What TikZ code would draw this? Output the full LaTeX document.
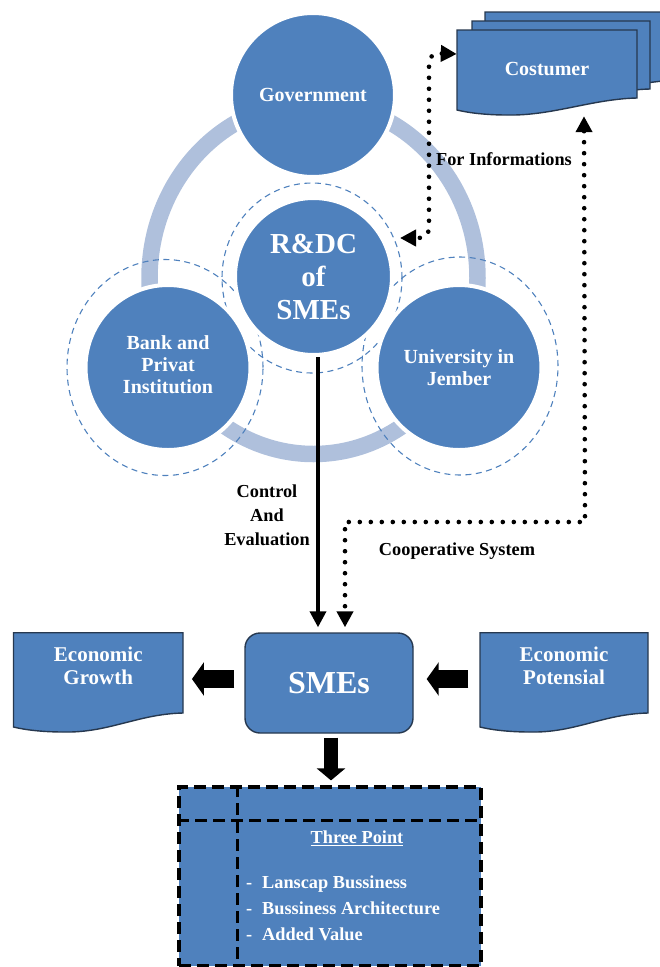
\documentclass[tikz,border=0pt]{standalone}
\usepackage{fontspec}
\setmainfont{Liberation Serif}
\usetikzlibrary{arrows.meta,shapes.geometric}
\definecolor{blu}{HTML}{4F81BD}
\definecolor{ringc}{HTML}{AFC0DC}
\definecolor{edgec}{HTML}{26384F}
\newcommand{\docshape}[5]{%
  \draw[docfill] (#1,#2) -- (#3,#2) -- (#3,#4)
    .. controls ({#3-45},{#4+1}) and ({#1+95},{#5+6}) .. ({#1+50},{#5+5})
    .. controls ({#1+30},{#5+5}) and ({#1+12},{#5+3}) .. (#1,#5) -- cycle;}
\newcommand{\twolines}[2]{\raisebox{5.5pt}[0pt][0pt]{\begin{tabular}{@{}c@{}}#1\\[0pt]#2\end{tabular}}}
\tikzset{
  docfill/.style={fill=blu,draw=edgec,line width=1.4pt},
  disc/.style={circle,fill=blu,draw=white,line width=4pt,inner sep=0pt,text=white,align=center},
  halo/.style={ellipse,draw=blu,line width=1.1pt,dash pattern=on 6pt off 4.5pt,inner sep=0pt},
  wlabel/.style={text=white,align=center,font=\bfseries\fontsize{20}{22}\selectfont},
  blabel/.style={text=black,align=center,font=\bfseries\fontsize{18.3}{24}\selectfont},
  docnode/.style={minimum width=169pt,minimum height=92pt,inner sep=0pt,text=white,align=center,
     font=\bfseries\fontsize{21}{23}\selectfont},
  solidarrow/.style={line width=3.6pt,-{Triangle[length=16pt,width=16pt]}},
  dotarrow/.style={line width=4.6pt,line cap=round,dash pattern=on 0pt off 11pt,
     {Triangle[length=16pt,width=16pt]}-{Triangle[length=16pt,width=16pt]}},
  blockarrow/.style={line width=18pt,-{Triangle[length=12pt,width=33pt]}},
  dashline/.style={draw=black,line width=3.2pt,dash pattern=on 12pt off 6pt},
}
\begin{document}
\begin{tikzpicture}[x=1pt,y=-1pt]
\useasboundingbox (0,0) rectangle (659,967);
% ring
\draw[ringc,line width=16.5pt] (313.5,278) ellipse [x radius=164,y radius=176];
% dashed halos
\node[halo,minimum width=196pt,minimum height=216pt] (bankhalo) at (165,367.5) {};
\node[halo,minimum width=196pt,minimum height=218pt] (unihalo) at (460,366) {};
\node[halo,minimum width=180pt,minimum height=190pt] (rdhalo) at (312,278) {};
% circles
\node[disc,minimum size=164pt,font=\bfseries\fontsize{20}{22}\selectfont] (gov) at (313,95) {Government};
\node[disc,minimum size=165pt,font=\bfseries\fontsize{20}{22}\selectfont] (bank) at (168,367.5) {\begin{tabular}{@{}c@{}}Bank and\\[0pt]Privat\\[0pt]Institution\end{tabular}};
\node[disc,minimum size=165pt,font=\bfseries\fontsize{20}{22}\selectfont] (uni) at (459,367.5) {University in\\Jember};
\node[disc,minimum size=157pt,font=\bfseries\fontsize{29}{33}\selectfont] (rd) at (313.5,276.5) {R\&DC\\of\\SMEs};
% costumer documents
\docshape{485}{12}{680}{80}{92}
\docshape{472}{21}{650}{89}{101}
\docshape{457}{30}{637}{98}{110}
\node[wlabel,minimum width=180pt,minimum height=80pt,inner sep=0pt] (cust) at (547,70) {\raisebox{3pt}{Costumer}};
% economy documents
\docshape{13.5}{632.7}{183}{713}{727}
\docshape{480}{632.7}{648}{713}{727}
\node[docnode] (growth) at (98.25,679) {\twolines{Economic}{Growth}};
\node[docnode] (potential) at (564,679) {\twolines{Economic}{Potensial}};
% SMEs
\node[fill=blu,draw=edgec,line width=1.4pt,rounded corners=15pt,minimum width=168pt,minimum height=100pt,
  inner sep=0pt,text=white,font=\bfseries\fontsize{32}{36}\selectfont] (sme) at (329,683) {SMEs};
% three point box
\node[fill=blu,dashline,minimum width=302pt,minimum height=179pt,inner sep=0pt] (tp) at (330,876.5) {};
\draw[dashline] ([xshift=60pt]tp.north west) -- ([xshift=60pt]tp.south west);
\draw[dashline] ([yshift=-35pt]tp.north west) -- ([yshift=-35pt]tp.north east);
\node[text=white,font=\bfseries\fontsize{18.3}{22}\selectfont] (tptitle) at (357,838) {\underline{Three Point}};
\node[text=white,anchor=west,align=left,inner sep=0pt,font=\bfseries\fontsize{18.3}{26}\selectfont] (tplist) at (246,908)
  {\makebox[16pt][l]{-}Lanscap Bussiness\\\makebox[16pt][l]{-}Bussiness Architecture\\\makebox[16pt][l]{-}Added Value};
% connector bends
\coordinate (infoA) at (429,53);
\coordinate (infoB) at (429,238);
\coordinate (coopA) at (585,522);
\coordinate (coopB) at (345,522);
% connectors
\draw[dotarrow,rounded corners=10pt] ([yshift=16pt]cust.west) -- (infoA) -- (infoB) -- ([xshift=6pt,yshift=38.5pt]rd.east);
\draw[dotarrow] ([xshift=37pt,yshift=-6pt]cust.south) -- (coopA) -- (coopB) -- ([xshift=16pt,yshift=5pt]sme.north);
\draw[solidarrow] ([xshift=4.5pt]rd.south) -- ([xshift=-11pt,yshift=5pt]sme.north);
\draw[blockarrow] ([xshift=-10pt,yshift=4pt]sme.west) -- ([xshift=9pt]growth.east);
\draw[blockarrow] ([xshift=-11pt]potential.west) -- ([xshift=13pt,yshift=4pt]sme.east);
\draw[blockarrow,line width=14pt,-{Triangle[length=12pt,width=28pt]}] ([xshift=2pt,yshift=-4pt]sme.south) -- ([xshift=1pt,yshift=5pt]tp.north);
% labels
\node[blabel] (lbinfo) at (504,159) {For Informations};
\node[blabel] (lbctrl) at (267,515) {Control\\And\\Evaluation};
\node[blabel] (lbcoop) at (457,551) {Cooperative System};
\end{tikzpicture}
\end{document}
